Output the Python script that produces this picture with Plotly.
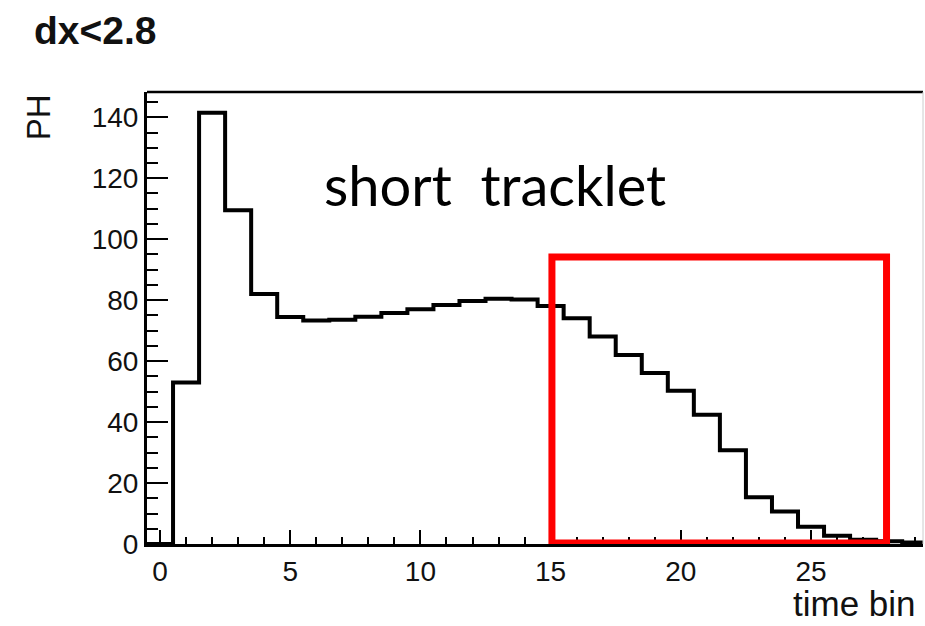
import plotly.graph_objects as go

# Pulse height per time bin (bin centres 0..29)
time_bins = list(range(30))
ph = [0, 53, 141.5, 109.5, 82, 74.5, 73.3, 73.6, 74.6, 75.8,
      77, 78.4, 79.7, 80.5, 80.2, 78.1, 74.1, 68.1, 62.0, 56.1,
      50.3, 42.4, 30.8, 15.3, 10.7, 5.7, 2.7, 1.4, 0.9, 0.5]

x_ticks = [0, 5, 10, 15, 20, 25]
y_ticks = [0, 20, 40, 60, 80, 100, 120, 140]

# Highlighted region of the tail (time-bin span, PH span)
box_x = [15.05, 27.9]
box_y = [0.3, 94.2]

# Step outline: bin edges, last value repeated to close the final bin
edges = [b - 0.5 for b in time_bins] + [time_bins[-1] + 0.5]
step_y = ph + [ph[-1]]

fig = go.Figure()
fig.add_trace(go.Scatter(
    x=edges, y=step_y, mode="lines", line_shape="hv",
    line=dict(color="black", width=4), hoverinfo="skip", showlegend=False,
))

tick_font = dict(family="Liberation Sans, Arial, sans-serif", size=28, color="#111")

fig.update_xaxes(
    range=[-0.5, 29.3], tickvals=x_ticks, ticktext=[str(v) for v in x_ticks],
    ticks="inside", ticklen=14, tickwidth=2, tickcolor="black",
    minor=dict(dtick=1, tick0=0, ticks="inside", ticklen=7, tickwidth=2, tickcolor="black"),
    showline=True, linecolor="black", linewidth=3,
    showgrid=False, zeroline=False, tickfont=tick_font,
)
fig.update_yaxes(
    range=[0, 148.3], tickvals=y_ticks, ticktext=[str(v) for v in y_ticks],
    ticks="inside", ticklen=21, tickwidth=2, tickcolor="black",
    minor=dict(dtick=5, tick0=0, ticks="inside", ticklen=11, tickwidth=2, tickcolor="black"),
    showline=True, linecolor="black", linewidth=3,
    showgrid=False, zeroline=False, tickfont=tick_font,
)

shapes = [
    # top frame
    dict(type="line", xref="paper", yref="paper", x0=0, x1=1, y0=1, y1=1,
         line=dict(color="black", width=2.5)),
    # right frame
    dict(type="line", xref="paper", yref="paper", x0=1, x1=1, y0=0, y1=1,
         line=dict(color="#cccccc", width=1)),
    # highlight box
    dict(type="rect", xref="x", yref="y", x0=box_x[0], x1=box_x[1], y0=box_y[0], y1=box_y[1],
         line=dict(color="#ff0000", width=7), fillcolor="rgba(0,0,0,0)"),
]

annotations = [
    dict(text="<b>dx&lt;2.8</b>", xref="paper", yref="paper", x=-0.148, y=1.137,
         xanchor="left", yanchor="middle", showarrow=False,
         font=dict(family="Liberation Sans, Arial, sans-serif", size=39, color="#111")),
    dict(text="PH", xref="paper", yref="paper", x=-0.14, y=1.0,
         xanchor="center", yanchor="top", textangle=-90, showarrow=False,
         font=dict(family="Liberation Sans, Arial, sans-serif", size=33, color="#111")),
    dict(text="time bin", xref="paper", yref="paper", x=0.994, y=-0.179,
         xanchor="right", yanchor="bottom", showarrow=False,
         font=dict(family="Liberation Sans, Arial, sans-serif", size=35, color="#111")),
    dict(text="short  tracklet", xref="x", yref="y", x=12.85, y=118,
         xanchor="center", yanchor="middle", showarrow=False,
         font=dict(family="Lato, sans-serif", size=56, color="black")),
]

fig.update_layout(
    width=925, height=626,
    margin=dict(l=147, r=2, t=92, b=82),
    plot_bgcolor="white", paper_bgcolor="white",
    shapes=shapes, annotations=annotations,
)

fig.write_html("out.html")
